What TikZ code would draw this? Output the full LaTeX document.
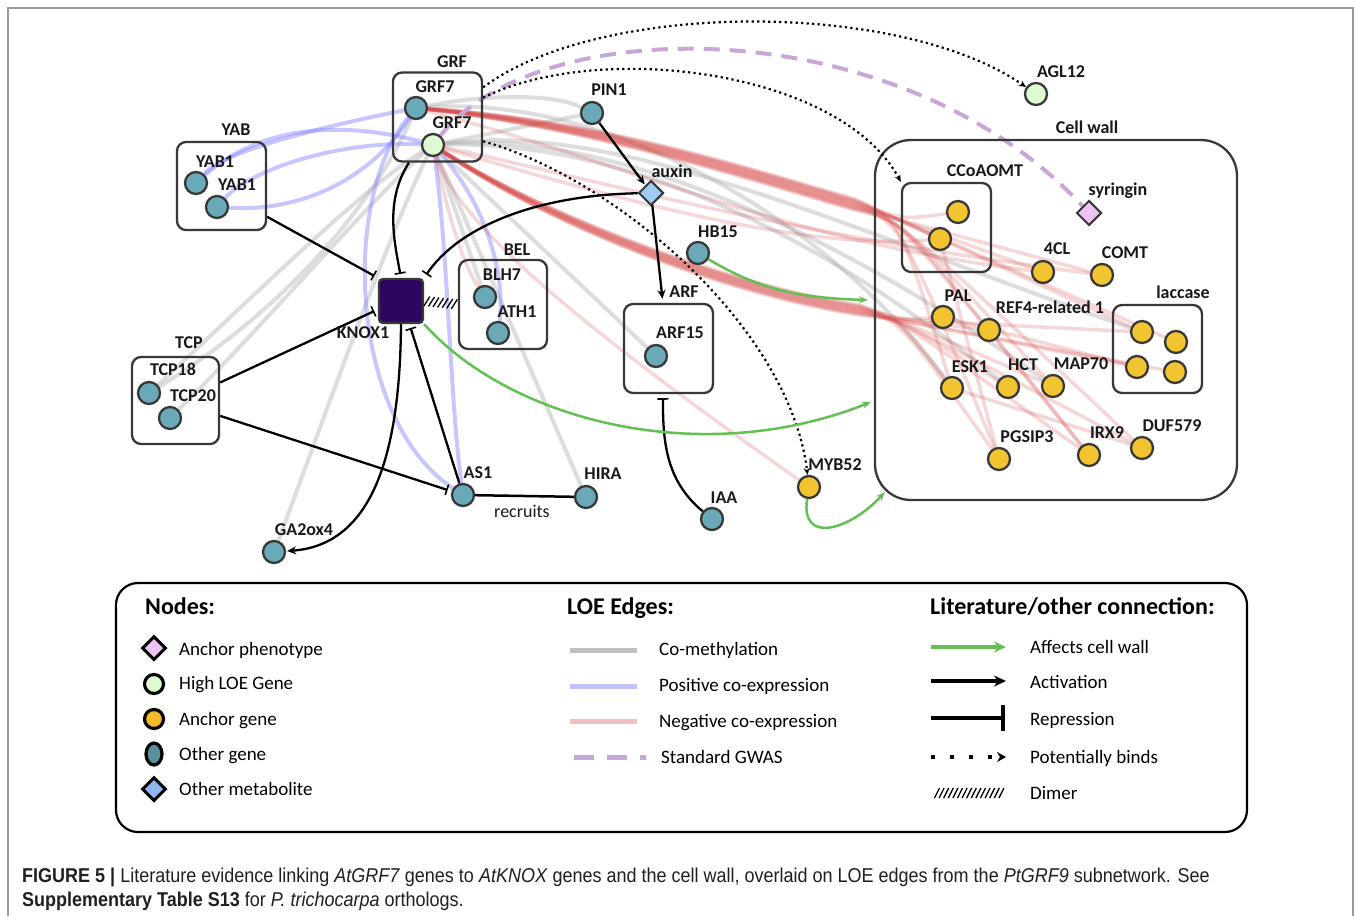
\documentclass[tikz,border=0pt]{standalone}
\usepackage{fontspec}
\setmainfont{Carlito}
\newfontfamily\capfont[FakeStretch=0.9]{Liberation Sans}
\usetikzlibrary{arrows.meta,shapes.geometric,decorations.markings,calc}
\pgfdeclarelayer{edges}
\pgfdeclarelayer{bg}
\pgfsetlayers{bg,edges,main}
\definecolor{cborder}{HTML}{383838}
\definecolor{cgene}{HTML}{6AA9B7}
\definecolor{cyellow}{HTML}{F2C530}
\definecolor{clgreen}{HTML}{DDFAD0}
\definecolor{cpinkd}{HTML}{EDC3F5}
\definecolor{cblued}{HTML}{9FCBF2}
\definecolor{cknox}{HTML}{2C0660}
\definecolor{cgreen}{HTML}{62C152}
\definecolor{cgwas}{HTML}{C8A6D6}
\definecolor{cgray}{HTML}{B0B0B0}
\definecolor{cblueline}{HTML}{8585FF}
\definecolor{credline}{HTML}{D84A4A}
\definecolor{cframe}{HTML}{9A9A9A}
\definecolor{ccap}{HTML}{231F20}
\tikzset{
  gene/.style={circle, draw=cborder, line width=2.3pt, fill=cgene, minimum size=22pt, inner sep=0pt},
  anchorgene/.style={gene, fill=cyellow},
  highgene/.style={gene, fill=clgreen},
  metab/.style={diamond, draw=cborder, line width=2pt, fill=cblued, minimum size=25pt, inner sep=0pt},
  pheno/.style={metab, fill=cpinkd},
  knox/.style={draw=cborder, line width=2.3pt, fill=cknox, rounded corners=4pt, minimum size=44pt, inner sep=0pt},
  grp/.style={draw=cborder, line width=2.3pt, rounded corners=9pt, inner sep=0pt},
  lbl/.style={font=\bfseries\fontsize{18}{18}\selectfont, text=black!90, inner sep=0pt, text height=11.5pt, text depth=0pt},
  plainlbl/.style={font=\fontsize{18}{18}\selectfont, text=black!90, inner sep=0pt, text height=11.5pt, text depth=0pt},
  actarrow/.style={draw=black, line width=2.3pt, -{Stealth[length=9pt,width=8pt]}, shorten >=1pt},
  reparrow/.style={draw=black, line width=2.3pt, -{Bar[width=11pt,line width=1.6pt]}, shorten >=4pt},
  greenarrow/.style={draw=cgreen, line width=2.5pt, -{Stealth[length=9pt,width=7pt]}},
  bindarrow/.style={draw=black, line width=2.2pt, dash pattern=on 2.2pt off 3.3pt, -{Stealth[length=7pt,width=6pt]}},
  gwasline/.style={draw=cgwas, line width=4pt, dash pattern=on 16pt off 10pt},
  loegray/.style={draw=cgray, line width=4pt, opacity=0.42},
  loeblue/.style={draw=cblueline, line width=4pt, opacity=0.45},
  loered/.style={draw=credline, line width=3.5pt, opacity=0.22},
  loepink/.style={draw=credline, line width=3.5pt, opacity=0.22},
  dimer/.style={decoration={markings, mark=between positions 0.08 and 0.95 step 4.6pt with {\draw[line width=1.3pt,black] (-2.5pt,-5pt) -- (2.5pt,5pt);}}, postaction={decorate}},
  legtext/.style={font=\fontsize{19}{19}\selectfont, anchor=west, inner sep=0pt, text height=13pt, text depth=0pt},
  leghead/.style={font=\bfseries\fontsize{24}{24}\selectfont, anchor=west, inner sep=0pt, text height=16pt, text depth=0pt},
}
\begin{document}
\begin{tikzpicture}[x=1pt,y=-1pt]
\useasboundingbox (0,0) rectangle (1355,916);
\begin{pgfonlayer}{bg}
\fill[white] (0,0) rectangle (1355,916);
\end{pgfonlayer}
\draw[cframe, line width=1.5pt] (8,916) -- (8,8) -- (1353,8) -- (1353,916);

% group boxes
\node[grp, minimum width=89pt, minimum height=89pt] (GRFbox) at (437.5,117) {};
\node[grp, minimum width=89pt, minimum height=88pt] (YABbox) at (221.5,186) {};
\node[grp, minimum width=88pt, minimum height=89pt] (BELbox) at (503,304.5) {};
\node[grp, minimum width=87pt, minimum height=87pt] (TCPbox) at (175.5,400.5) {};
\node[grp, minimum width=89pt, minimum height=89pt] (ARFbox) at (668.5,348.5) {};
\node[grp, minimum width=89pt, minimum height=89pt] (CCbox) at (946.5,227.5) {};
\node[grp, minimum width=89pt, minimum height=88pt] (LACbox) at (1157.5,349) {};
\node[grp, rounded corners=36pt, minimum width=362pt, minimum height=360pt] (CWbox) at (1056,320) {};

% genes
\node[gene] (GRF7a) at (416,108) {};
\node[highgene] (GRF7b) at (433,145) {};
\node[gene] (YAB1a) at (196,183) {};
\node[gene] (YAB1b) at (217,207) {};
\node[gene] (BLH7) at (485,297) {};
\node[gene] (ATH1) at (498,333) {};
\node[gene] (TCP18) at (149,393) {};
\node[gene] (TCP20) at (170,418) {};
\node[gene] (AS1) at (463,495) {};
\node[gene] (HIRA) at (586,497) {};
\node[gene] (GA2ox4) at (274,552) {};
\node[gene] (PIN1) at (592,113) {};
\node[gene] (HB15) at (698,253) {};
\node[gene] (ARF15) at (656,356) {};
\node[gene] (IAA) at (712,519) {};
\node[anchorgene] (MYB52) at (809,487) {};
\node[highgene] (AGL12) at (1036,94) {};
\node[metab] (auxin) at (651,193) {};
\node[pheno] (syringin) at (1089,213) {};
\node[anchorgene] (CCa) at (958,212) {};
\node[anchorgene] (CCb) at (940,239) {};
\node[anchorgene] (fourCL) at (1043,272) {};
\node[anchorgene] (COMT) at (1102,275) {};
\node[anchorgene] (PAL) at (943,317) {};
\node[anchorgene] (REF) at (989,330) {};
\node[anchorgene] (lacA) at (1142,332) {};
\node[anchorgene] (lacB) at (1176,342) {};
\node[anchorgene] (lacC) at (1137,367) {};
\node[anchorgene] (lacD) at (1175,372) {};
\node[anchorgene] (ESK) at (952,388) {};
\node[anchorgene] (HCT) at (1008,387) {};
\node[anchorgene] (MAP) at (1053,386) {};
\node[anchorgene] (PGS) at (999,459) {};
\node[anchorgene] (IRX) at (1089,455) {};
\node[anchorgene] (DUF) at (1142,448) {};
\node[knox] (KNOX1) at (401,301) {};

% labels
\node[lbl] (tGRF) at (452,62) {GRF};
\node[lbl] (tGRF7a) at (435,87) {GRF7};
\node[lbl] (tGRF7b) at (452,123) {GRF7};
\node[lbl] (tYAB) at (236,130) {YAB};
\node[lbl] (tYAB1a) at (215,162) {YAB1};
\node[lbl] (tYAB1b) at (237,185) {YAB1};
\node[lbl] (tKNOX1) at (363,333) {KNOX1};
\node[lbl] (tBEL) at (517,250) {BEL};
\node[lbl] (tBLH7) at (502,275) {BLH7};
\node[lbl] (tATH1) at (517,312) {ATH1};
\node[lbl] (tTCP) at (189,343) {TCP};
\node[lbl] (tTCP18) at (173,370) {TCP18};
\node[lbl] (tTCP20) at (193,396) {TCP20};
\node[lbl] (tAS1) at (478,473) {AS1};
\node[lbl] (tHIRA) at (603,474) {HIRA};
\node[lbl] (tGA2ox4) at (304,530) {GA2ox4};
\node[lbl] (tPIN1) at (609,90) {PIN1};
\node[lbl] (tauxin) at (672,172) {auxin};
\node[lbl] (tHB15) at (718,232) {HB15};
\node[lbl] (tARF) at (684,292) {ARF};
\node[lbl] (tARF15) at (680,333) {ARF15};
\node[lbl] (tIAA) at (724,498) {IAA};
\node[lbl] (tMYB52) at (835,465) {MYB52};
\node[lbl] (tAGL12) at (1061,72) {AGL12};
\node[lbl] (tCW) at (1087,128) {Cell wall};
\node[lbl] (tCC) at (985,171) {CCoAOMT};
\node[lbl] (tsyr) at (1118,190) {syringin};
\node[lbl] (t4CL) at (1057,249) {4CL};
\node[lbl] (tCOMT) at (1125,253) {COMT};
\node[lbl] (tlac) at (1183,293) {laccase};
\node[lbl] (tPAL) at (958,296) {PAL};
\node[lbl] (tREF) at (1050,308) {REF4-related 1};
\node[lbl] (tESK) at (970,367) {ESK1};
\node[lbl] (tHCT) at (1023,365) {HCT};
\node[lbl] (tMAP) at (1081,364) {MAP70};
\node[lbl] (tPGS) at (1027,437) {PGSIP3};
\node[lbl] (tIRX) at (1107,433) {IRX9};
\node[lbl] (tDUF) at (1172,426) {DUF579};
\node[plainlbl] (trec) at (522,512) {recruits};

% free ends for green arrows
\coordinate (cwA) at (868,300);
\coordinate (cwB) at (871,402);
\coordinate (cwC) at (885,492);

% LOE edges
\begin{pgfonlayer}{edges}
\draw[loegray] (GRF7b) .. controls (360,190) and (250,300) .. (TCP18);
\draw[loegray] (GRF7b) .. controls (370,200) and (260,330) .. (TCP20);
\draw[loegray] (GRF7a) .. controls (380,190) and (300,300) .. (TCP18);
\draw[loegray] (GRF7b) .. controls (390,230) and (320,430) .. (GA2ox4);
\draw[loegray] (GRF7b) -- (HIRA);
\draw[loegray] (GRF7b) -- (ARF15);
\draw[loegray] (GRF7b) -- (BLH7);
\draw[loegray] (GRF7b) -- (PIN1);
\draw[loegray] (GRF7a) .. controls (500,92) and (560,96) .. (PIN1);
\draw[loegray] (GRF7b) .. controls (620,120) and (850,230) .. (lacA);
\draw[loegray] (GRF7b) .. controls (640,140) and (840,250) .. (HCT);
\draw[loegray] (GRF7a) .. controls (600,95) and (820,210) .. (ESK);
\draw[loegray] (GRF7b) .. controls (600,130) and (820,220) .. (MAP);
\draw[loeblue] (YAB1a) .. controls (270,118) and (360,125) .. (GRF7b);
\draw[loeblue] (YAB1b) .. controls (300,212) and (370,180) .. (GRF7a);
\draw[loeblue] (YAB1a) .. controls (225,150) and (330,125) .. (GRF7a);
\draw[loeblue] (YAB1b) .. controls (250,170) and (340,140) .. (GRF7b);
\draw[loeblue] (GRF7a) .. controls (340,200) and (350,420) .. (AS1);
\draw[loeblue] (GRF7b) .. controls (448,250) and (450,400) .. (AS1);
\draw[loeblue] (GRF7b) .. controls (490,210) and (505,280) .. (ATH1);
% bundled negative co-expression
\foreach \t/\d in {CCa/-5,CCb/-3,fourCL/-1,COMT/1,REF/3,MAP/5,lacA/-4,lacB/-2,IRX/0,DUF/2,PGS/4,ESK/-6}
  \draw[loered] (GRF7a) .. controls (600,125+\d) and (760,178+\d) .. (855,205+\d) .. controls (900,220) .. (\t);
\foreach \t/\d in {PAL/-5,ESK/-3,HCT/-1,PGS/1,lacC/3,lacD/5,REF/-4,IRX/-2,MAP/0,DUF/2,lacA/4}
  \draw[loered] (GRF7b) .. controls (560,228+\d) and (740,292+\d) .. (860,310+\d) .. controls (900,320) .. (\t);
\draw[loepink] (GRF7b) .. controls (600,180) and (760,230) .. (COMT);
\draw[loepink] (GRF7b) .. controls (620,200) and (800,250) .. (CCb);
\draw[loepink] (GRF7a) .. controls (650,170) and (780,240) .. (fourCL);
\draw[loepink] (GRF7b) .. controls (445,200) and (460,260) .. (BLH7);
\draw[loepink] (GRF7b) .. controls (460,230) and (600,340) .. (MYB52);
\draw[loepink] (PAL) -- (lacC);
\draw[loepink] (CCb) -- (PGS);
\draw[loepink] (REF) -- (IRX);
\draw[loepink] (ESK) -- (DUF);
% GWAS
\draw[gwasline] (GRF7b) .. controls (540,10) and (900,10) .. (syringin);
\end{pgfonlayer}

% potentially binds
\draw[bindarrow] (GRFbox.33) .. controls (600,0) and (900,0) .. (AGL12);
\draw[bindarrow] (GRFbox.23) .. controls (600,40) and (840,70) .. (CCbox.north west);
\draw[bindarrow] (GRFbox.-28) .. controls (620,180) and (790,330) .. (MYB52);

% literature edges
\draw[reparrow] (GRFbox.238) .. controls (385,200) and (394,240) .. (KNOX1.north);
\draw[reparrow] (YABbox.-34) -- (KNOX1.north west);
\draw[reparrow] (auxin) .. controls (540,195) and (460,225) .. (KNOX1.north east);
\draw[reparrow] (TCPbox.22) -- (KNOX1.200);
\draw[reparrow] (TCPbox.-19) -- (AS1);
\draw[reparrow] (AS1) -- (KNOX1.290);
\draw[actarrow] (KNOX1.south) .. controls (400,460) and (370,545) .. (GA2ox4);
\draw[black, line width=2.5pt] (AS1) -- (HIRA);
\draw[actarrow] (PIN1) -- (auxin);
\draw[actarrow, shorten >=4pt] (auxin) -- (ARFbox.97);
\draw[reparrow] (IAA) .. controls (665,480) and (663,440) .. (ARFbox.-97);
\path[dimer] (KNOX1.east) -- (BELbox.west);

% affects cell wall
\draw[greenarrow] (HB15) .. controls (760,290) and (800,298) .. (cwA);
\draw[greenarrow] (KNOX1.south east) .. controls (510,420) and (700,470) .. (cwB);
\draw[greenarrow] (MYB52) .. controls (800,545) and (850,530) .. (cwC);

% legend
\node[draw=black, line width=2.2pt, rounded corners=22pt, minimum width=1131pt, minimum height=249pt, inner sep=0pt] (legendbox) at (681.5,707.5) {};
\node[leghead] (hNodes) at (145,606) {Nodes:};
\node[leghead] (hLOE) at (567,606) {LOE Edges:};
\node[leghead] (hLit) at (930,606) {Literature/other connection:};

\node[diamond, draw=black, line width=3pt, fill=cpinkd, minimum size=24pt, inner sep=0pt] (lgPheno) at (154,648) {};
\node[circle, draw=black, line width=3.2pt, fill=clgreen, minimum size=19pt, inner sep=0pt] (lgHigh) at (154,684) {};
\node[circle, draw=black, line width=3.2pt, fill=cyellow!85!orange, minimum size=19pt, inner sep=0pt] (lgAnchor) at (154,719) {};
\node[ellipse, draw=black, line width=3.2pt, fill=cgene!85!black, minimum width=16pt, minimum height=22pt, inner sep=0pt] (lgOther) at (154,754) {};
\node[diamond, draw=black, line width=3pt, fill=cblued!90!blue, minimum size=24pt, inner sep=0pt] (lgMet) at (154,789) {};
\node[legtext] (xPheno) at (179,649) {Anchor phenotype};
\node[legtext] (xHigh) at (179,683) {High LOE Gene};
\node[legtext] (xAnchor) at (179,719) {Anchor gene};
\node[legtext] (xOther) at (179,754) {Other gene};
\node[legtext] (xMet) at (179,789) {Other metabolite};

\coordinate (la1) at (570,650); \coordinate (lb1) at (637,650);
\coordinate (la2) at (570,686); \coordinate (lb2) at (637,686);
\coordinate (la3) at (570,721); \coordinate (lb3) at (637,721);
\coordinate (la4) at (574,757); \coordinate (lb4) at (646,757);
\draw[draw=cgray!80, line width=5pt] (la1) -- (lb1);
\draw[draw=cblueline!50, line width=5pt] (la2) -- (lb2);
\draw[draw=credline!35, line width=5pt] (la3) -- (lb3);
\draw[draw=cgwas, line width=5pt, dash pattern=on 20pt off 13pt] (la4) -- (lb4);
\node[legtext] (xMeth) at (659,649) {Co-methylation};
\node[legtext] (xPos) at (659,685) {Positive co-expression};
\node[legtext] (xNeg) at (659,721) {Negative co-expression};
\node[legtext] (xGWAS) at (661,757) {Standard GWAS};

\coordinate (lc1) at (931,647); \coordinate (ld1) at (1006,647);
\coordinate (lc2) at (931,681); \coordinate (ld2) at (1006,681);
\coordinate (lc3) at (931,718); \coordinate (ld3) at (1005,718);
\coordinate (lc4) at (931,757); \coordinate (ld4) at (1006,757);
\coordinate (lc5) at (931,793); \coordinate (ld5) at (1006,793);
\draw[draw=cgreen, line width=4pt, -{Stealth[length=12pt,width=11pt]}] (lc1) -- (ld1);
\draw[draw=black, line width=4pt, -{Stealth[length=12pt,width=11pt]}] (lc2) -- (ld2);
\draw[draw=black, line width=4pt, -{Bar[width=26pt,line width=4pt]}] (lc3) -- (ld3);
\draw[draw=black, line width=4pt, dash pattern=on 4pt off 15pt, -{Stealth[length=9pt,width=10pt]}] (lc4) -- (ld4);
\path[dimer] (lc5) -- (ld5);
\node[legtext] (xAff) at (1030,647) {Affects cell wall};
\node[legtext] (xAct) at (1030,682) {Activation};
\node[legtext] (xRep) at (1030,719) {Repression};
\node[legtext] (xBind) at (1030,757) {Potentially binds};
\node[legtext] (xDim) at (1030,793) {Dimer};

% caption
\node[anchor=base west, inner sep=0pt, text=ccap, font=\capfont\fontsize{20}{22}\selectfont] (cap1) at (22,882) {\textbf{FIGURE 5 |} Literature evidence linking \textit{AtGRF7} genes to \textit{AtKNOX} genes and the cell wall, overlaid on LOE edges from the \textit{PtGRF9} subnetwork. See};
\node[anchor=base west, inner sep=0pt, text=ccap, font=\capfont\fontsize{20}{22}\selectfont] (cap2) at (22,906) {\textbf{Supplementary Table S13} for \textit{P. trichocarpa} orthologs.};
\end{tikzpicture}
\end{document}
